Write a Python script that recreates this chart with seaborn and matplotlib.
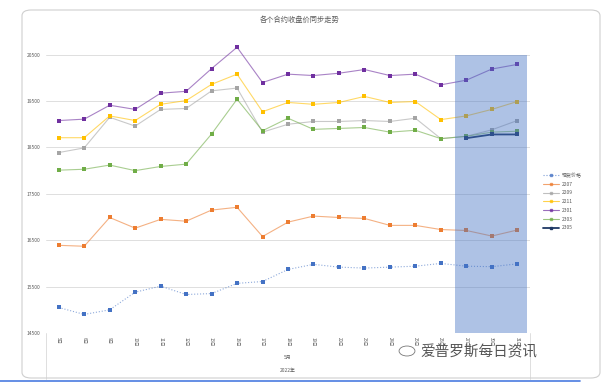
import numpy as np
import pandas as pd
import matplotlib.pyplot as plt
import seaborn as sns
from matplotlib.lines import Line2D
from matplotlib.patches import FancyBboxPatch, Rectangle

# === DATA ===
days = ["5日", "6日", "9日", "10日", "11日", "12日", "13日", "16日", "17日", "18日",
        "19日", "20日", "23日", "24日", "25日", "26日", "27日", "30日", "31日"]
month_label = "5月"
year_label = "2022年"

spot = [15050, 14900, 15000, 15380, 15510, 15330, 15350, 15570, 15610, 15870,
        15980, 15920, 15900, 15920, 15940, 16000, 15940, 15930, 15990]
c2207 = [16390, 16370, 16990, 16760, 16950, 16910, 17150, 17210, 16580, 16890,
         17020, 16990, 16970, 16820, 16820, 16730, 16710, 16590, 16720]
c2209 = [18390, 18490, 19150, 18960, 19320, 19340, 19720, 19780, 18830, 19000,
         19060, 19060, 19080, 19060, 19130, 18690, 18740, 18880, 19080]
c2211 = [18710, 18710, 19180, 19080, 19430, 19510, 19860, 20080, 19270, 19470,
         19430, 19470, 19600, 19470, 19490, 19100, 19180, 19320, 19490]
c2301 = [19080, 19110, 19410, 19320, 19670, 19710, 20200, 20660, 19900, 20080,
         20050, 20100, 20180, 20050, 20080, 19850, 19950, 20190, 20290]
c2303 = [18010, 18030, 18120, 18000, 18090, 18140, 18790, 19540, 18860, 19130,
         18890, 18910, 18930, 18830, 18870, 18690, 18740, 18830, 18850]
c2305 = [np.nan] * 16 + [18700, 18780, 18780]

series_names = ["现货价格", "2207", "2209", "2211", "2301", "2303", "2305"]
series_vals = [spot, c2207, c2209, c2211, c2301, c2303, c2305]
colors = ["#4472C4", "#ED7D31", "#A5A5A5", "#FFC000", "#7030A0", "#70AD47", "#1F3864"]
yticks = [14500, 15500, 16500, 17500, 18500, 19500, 20500]

# === SETTINGS ===
sns.set_theme(style="white")
plt.rcParams["font.family"] = ["Noto Sans CJK SC", "DejaVu Sans"]

fig = plt.figure(figsize=(6.11, 3.83), dpi=100)
ax = fig.add_axes([46 / 611, 1 - 333 / 383, 484 / 611, 289 / 383])

x = np.arange(len(days))
handles = []
for name, vals, col in zip(series_names, series_vals, colors):
    is_spot = name == "现货价格"
    is_new = name == "2305"
    sns.lineplot(x=x, y=vals, ax=ax, color=col,
                 linewidth=1.3 if is_new else 0.8,
                 alpha=1.0 if is_new else 0.6,
                 linestyle=":" if is_spot else "-", zorder=3)
    sns.scatterplot(x=x, y=vals, ax=ax, color=col, marker="s", s=6,
                    linewidth=0, zorder=4)
    handles.append(Line2D([], [], color=col, linewidth=1.3 if is_new else 0.8,
                          linestyle=":" if is_spot else "-", marker="s",
                          markersize=2, alpha=1.0 if is_new else 0.7,
                          markerfacecolor=col, markeredgecolor=col))

# highlighted region (last few sessions)
ax.add_patch(Rectangle((15.57, 14500), 2.83, 6000, facecolor="#4472C4",
                       alpha=0.43, edgecolor="none", zorder=5))

ax.set_xlim(-0.5, 18.5)
ax.set_ylim(14500, 20730)
ax.set_yticks(yticks)
ax.set_yticklabels([str(v) for v in yticks], fontsize=3.5, color="#595959")
ax.yaxis.grid(True, color="#D9D9D9", linewidth=0.6)
ax.xaxis.grid(False)
ax.set_axisbelow(True)
ax.set_xticks(x)
ax.set_xticklabels(days, rotation=270, fontsize=3.2, color="#595959")
ax.tick_params(axis="both", length=0, pad=3)
ax.tick_params(axis="y", pad=4)
ax.set_xlabel("")
ax.set_ylabel("")
for s in ax.spines.values():
    s.set_visible(False)

# multi-level category axis decorations
for xx in (0, 1):
    ax.plot([xx, xx], [0, -0.16], transform=ax.transAxes, color="#D9D9D9",
            linewidth=0.6, clip_on=False)
ax.text(0.5, -0.085, month_label, transform=ax.transAxes, ha="center",
        va="center", fontsize=3.5, color="#595959")
ax.text(0.5, -0.13, year_label, transform=ax.transAxes, ha="center",
        va="center", fontsize=3.5, color="#595959")

ax.set_title("各个合约收盘价同步走势", fontsize=5.2, color="#595959", pad=16)
ax.title.set_position((0.525, 1.0))

fig.legend(handles, series_names, loc="upper left",
           bbox_to_anchor=(538 / 611, 1 - 168 / 383), frameon=False,
           fontsize=3.6, labelspacing=0.75, handlelength=3.2,
           handletextpad=0.6, labelcolor="#595959")

# outer chart frame and screenshot edge
fig.patches.append(FancyBboxPatch((22 / 611, 1 - 378 / 383), 578 / 611, 368 / 383,
                                  boxstyle="round,pad=0,rounding_size=0.015",
                                  transform=fig.transFigure, facecolor="none",
                                  edgecolor="#CFCFCF", linewidth=0.8))
fig.add_artist(Line2D([0, 580 / 611], [1 - 381 / 383, 1 - 381 / 383],
                      transform=fig.transFigure, color="#4A7BE0", linewidth=1.2))

# watermark
fig.add_artist(plt.Circle((407 / 611, 1 - 351 / 383), 0.013,
                          transform=fig.transFigure, facecolor="none",
                          edgecolor="#777777", linewidth=0.6))
fig.text(420 / 611, 1 - 352 / 383, "爱普罗斯每日资讯", fontsize=10.5,
         color="#555555", va="center", ha="left")

fig.savefig("out.png", dpi=100)
